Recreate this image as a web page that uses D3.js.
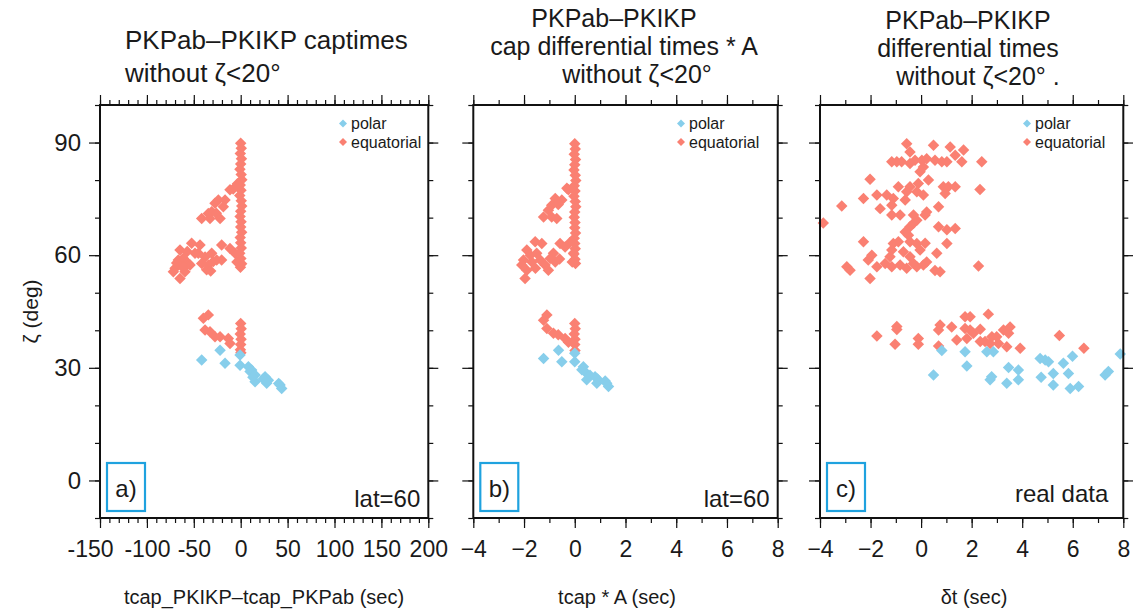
<!DOCTYPE html>
<html>
<head>
<meta charset="utf-8">
<script src="https://cdn.jsdelivr.net/npm/d3@7"></script>
<style>
  body { margin: 0; background: #fff; }
  svg { display: block; }
  text { font-family: "Liberation Sans", Arial, Helvetica, sans-serif; fill: #1a1a1a; }
</style>
</head>
<body>
<svg id="chart" width="1133" height="610"></svg>
<script>
// ---- data (x, zeta) ----
var panelAEquatorial = [
  [0,89.8],[0.6,88.5],[-0.4,87.1],[0.8,85.7],[0,84.3],[-0.8,82.9],[0.5,81.5],[1.2,80.1],[-0.5,78.7],
  [0.3,77.3],[-1,75.9],[0.6,74.5],[1.1,73.1],[0,71.7],[-0.6,70.3],[0.4,68.9],[0,67.5],[1,66.1],
  [-0.5,64.7],[0,63.3],[0.6,61.9],[-1,60.5],[0.2,59.1],[1,57.7],[-0.3,56.8],
  [-6,60.5],[-11.4,61.8],[-4,58.2],[-8,77.6],[-11.4,77.4],[-3.5,79],
  [-16.7,74.7],[-18.5,72.9],[-23.8,74.7],[-27.4,73.8],[-30.9,71.6],[-34.5,71.1],[-26,71.2],[-22,69.8],
  [-32.7,69.8],[-41.6,69.8],
  [-20.3,62.7],[-20.3,58.7],[-25.6,58.7],[-29.2,58.3],[-30.9,60.5],[-34.5,57.4],[-36.3,56.1],[-41.6,57.8],
  [-38,59.5],[-32,55.8],
  [-43.4,62.7],[-45.2,60.5],[-48.7,60.5],[-52.3,63.2],[-55.8,57.8],[-54,57.4],[-59.4,55.6],[-61.2,59.2],
  [-63,57.4],[-64.7,61.4],[-64.7,53.8],[-66.5,58.7],[-68.3,57.9],[-70,56.5],[-71.8,55.6],[-57,61],[-61,56.5],
  [-39.8,43.2],[-34.5,44.1],[-38,40.1],[-32.7,39.6],[-27.4,38.3],[-22,38.3],[-13.2,37.8],[-11.4,36.5],
  [0,41.8],[0.5,40.4],[-0.5,39],[0.4,37.6],[0,36.2],[-0.3,34.8],[0.2,34]
];
var panelAPolar = [
  [-41.6,32.1],[-22,34.7],[-16.7,31.2],[-0.7,33.4],[-0.7,30.7],[8.2,30.3],[10,29],[11.7,29.4],[15.3,28.1],
  [15.3,26.3],[13,27.5],[26,27.6],[27.7,25.9],[29.5,26.7],[24,27],[42,25.4],[43.7,24.5],[40.5,25.8]
];

var panelBEquatorial = [
  [0,89.7],[0.02,88.3],[-0.02,86.9],[0.03,85.5],[0,84.1],[-0.03,82.7],[0.02,81.3],[0.04,79.9],[-0.02,78.5],
  [0.01,77.1],[-0.03,75.7],[0.02,74.3],[0.04,72.9],[0,71.5],[-0.02,70.1],[0.01,68.7],[0,67.3],[0.03,65.9],
  [-0.02,64.5],[0,63.1],[0.02,61.7],[-0.03,60.3],[0.01,58.9],[0.03,57.8],
  [-0.05,60.5],[-0.38,62.2],[-0.2,63.3],[-0.1,58.2],[-0.31,77.8],[-0.25,77.4],
  [-0.51,74.7],[-0.77,75.1],[-0.91,73.3],[-0.65,73.5],[-1.04,72],[-1.23,70.2],[-0.91,70.2],[-0.71,69.8],
  [-0.58,63.1],[-0.84,60.5],[-0.77,58.2],[-0.97,59.1],[-1.17,57.4],[-1.04,56],[-0.6,59],
  [-1.3,63.1],[-1.56,63.6],[-1.89,61.4],[-1.5,60.5],[-2.02,58.7],[-2.09,57.4],[-1.89,56],[-1.96,53.8],
  [-1.69,58.2],[-1.36,58.7],[-1.75,60],[-1.55,56.5],
  [-1.1,44.1],[-1.23,42.7],[-1.1,40.5],[-0.84,39.2],[-0.65,38.8],[-0.38,37.8],[-0.25,36.8],
  [0,41.8],[0.02,40.4],[-0.02,39],[0.01,37.6],[0,36.2],[0.01,34.6]
];
var panelBPolar = [
  [-1.23,32.5],[-0.64,34.7],[-0.51,31.6],[0,33.9],[0,31.6],[0.28,29.5],[0.34,30.3],[0.47,28.5],[0.47,26.8],
  [0.6,28],[0.8,27.6],[0.87,25.9],[0.9,27],[1.26,25.9],[1.33,25],[1.2,26.5]
];

var panelCEquatorial = [
  [-0.57,89.7],[0.49,89.3],[1.15,88.8],[-0.44,87.5],[1.68,88],[1.35,86.6],
  [-1.16,84.9],[-0.96,84.9],[-0.77,84.9],[-0.44,84.4],[-0.24,85.3],[0.03,85.3],[0.22,85.7],[0.55,85.3],
  [0.82,84.9],[1.02,84.9],[0.09,83.5],[-0.04,82.2],[1.61,84.9],[2.4,84.9],
  [-2.02,80.2],[0.29,80],[-0.11,79.1],[-0.9,78.2],[-0.44,78.2],[-0.57,76.9],[-0.17,76.9],[0.09,76],
  [0.88,78.2],[1.08,78.2],[1.35,78.2],[2.33,77.5],[0.95,76.4],
  [-1.75,76],[-1.36,76],[-2.28,75.1],[-1.1,75.1],[-3.14,73.1],[-1.62,72.4],[-1.16,73.3],[-0.63,74.7],[0.69,72.9],
  [-1.16,70.7],[-0.83,70.7],[-0.3,70.7],[-0.17,69.3],[0.16,70.7],[0.22,71.5],
  [-3.87,68.6],[-0.44,67.6],[-0.3,68.5],[0.69,67.6],[1.02,66.8],[1.35,67.1],[-0.63,66.2],[-0.5,65.3],
  [-2.28,63.6],[-1.1,63.1],[-0.9,63.6],[-0.44,63.6],[-0.17,63.1],[0.16,63.2],[1.02,63.1],
  [-1.16,61.4],[-0.7,60.9],[-0.04,61.4],[0.62,60.5],[-1.95,60],[-2.09,58.7],[-1.23,59.6],[-0.44,59.6],
  [-1.75,56.9],[-1.42,57.8],[-1.16,56.9],[-0.83,57.4],[-0.57,56.5],[-0.17,56.9],[0.09,57.4],[-0.3,57.8],
  [0.55,55.9],[0.75,55.6],[2.27,57.1],[-2.94,56.9],[-2.81,56],[-2.02,53.8],[0.22,58.2],
  [-1.75,38.5],[-0.96,41],[-0.96,40.2],[-1.03,36.3],[-0.11,37.8],[-0.11,36.3],[0.69,40.1],[0.75,41.4],
  [0.69,35.8],[1.21,40.9],[1.41,37.4],[1.74,43.6],[1.94,43.6],[1.74,40.5],[1.94,40.1],[1.81,37.8],
  [2.07,39.2],[2.34,40.3],[2.66,44.3],[2.34,37],[2.53,37],[2.73,36.5],[2.8,38.3],[2.99,38.3],[3.06,36.5],
  [3.26,40.1],[3.46,39.2],[3.52,40.9],[3.39,35.6],[3.92,35.2],[5.47,38.6],[6.44,35.2]
];
var panelCPolar = [
  [0.49,28.1],[0.82,34.6],[1.74,34.3],[1.81,30.5],[2.6,34.3],[2.86,34.3],[2.79,27.6],[2.73,26.8],
  [3.39,25.9],[3.46,30.1],[3.85,29.4],[3.85,26.8],[4.71,32.5],[4.91,32.1],[5.04,31.6],[4.75,27.5],
  [5.23,28.5],[5.23,25.4],[5.63,31.2],[5.83,28.5],[5.99,33.1],[5.9,24.5],[6.23,25],[7.28,28.1],
  [7.41,29],[7.88,33.7]
];

var yDomain = [-10, 100];
var yMinorTicks = d3.range(-10, 101, 10);
var yMajorTicks = [0, 30, 60, 90];
var xTicksA = d3.range(-150, 201, 10);
var xLabelsA = d3.range(-150, 201, 50);
var xTicksBC = d3.range(-4, 9, 1);
var xLabelsBC = d3.range(-4, 9, 2);
var seriesNames = ["polar", "equatorial"];

// ---- layout ----
var colPolar = "#87ceeb", colEqu = "#fa8072", colBox = "#1fa2df";
var plotTop = 105, plotBottom = 518;
var svg = d3.select("#chart");

var yScale = d3.scaleLinear().domain(yDomain).range([plotBottom, plotTop]);

var panels = [
  { left: 100, right: 428.3, dom: [-150, 200], minor: xTicksA, major: xLabelsA,
    fmt: function(d) { return String(d); }, firstDx: -10,
    equ: panelAEquatorial, pol: panelAPolar, letter: "a)", note: "lat=60", noteDx: 8, noteY: 507,
    legendX: 343, yLabels: true, titleSize: 26,
    title: [{ t: "PKPab\u2013PKIKP captimes", x: 125, y: 49, a: "start" },
            { t: "without \u03b6<20\u00b0", x: 125, y: 82, a: "start" }],
    xTitle: "tcap_PKIKP\u2013tcap_PKPab (sec)", xTitleX: 264 },
  { left: 473.3, right: 777.7, dom: [-4, 8], minor: xTicksBC, major: xLabelsBC,
    fmt: d3.format("d"), firstDx: 0,
    equ: panelBEquatorial, pol: panelBPolar, letter: "b)", note: "lat=60", noteDx: 8, noteY: 507,
    legendX: 681, yLabels: false, titleSize: 25,
    title: [{ t: "PKPab\u2013PKIKP", x: 614, y: 27, a: "middle" },
            { t: "cap differential times * A", x: 624, y: 55, a: "middle" },
            { t: "without \u03b6<20\u00b0", x: 637, y: 83, a: "middle" }],
    xTitle: "tcap * A (sec)", xTitleX: 617 },
  { left: 820, right: 1123.3, dom: [-4, 8], minor: xTicksBC, major: xLabelsBC,
    fmt: d3.format("d"), firstDx: 0,
    equ: panelCEquatorial, pol: panelCPolar, letter: "c)", note: "real data", noteDx: 15, noteY: 502,
    legendX: 1027, yLabels: false, titleSize: 25,
    title: [{ t: "PKPab\u2013PKIKP", x: 968, y: 29, a: "middle" },
            { t: "differential times", x: 968, y: 57, a: "middle" },
            { t: "without \u03b6<20\u00b0 .", x: 978, y: 85, a: "middle" }],
    xTitle: "\u03b4t (sec)", xTitleX: 974 }
];

function styleAxis(g, size) {
  g.select(".domain").remove();
  g.attr("font-family", null).attr("font-size", null);
  g.selectAll(".tick line").attr("stroke", "#111").attr("stroke-width", 1.2);
  g.selectAll(".tick text").attr("fill", "#1a1a1a").style("font-size", size + "px");
}

var diamond = d3.symbol().type(d3.symbolSquare);

panels.forEach(function(p) {
  var x = d3.scaleLinear().domain(p.dom).range([p.left, p.right]);
  var g = svg.append("g");

  // minor ticks on all four sides
  g.append("g").attr("transform", "translate(0," + plotBottom + ")")
    .call(d3.axisBottom(x).tickValues(p.minor).tickSize(5).tickFormat(""))
    .call(styleAxis, 23);
  g.append("g").attr("transform", "translate(0," + plotTop + ")")
    .call(d3.axisTop(x).tickValues(p.minor).tickSize(5).tickFormat(""))
    .call(styleAxis, 23);
  g.append("g").attr("transform", "translate(" + p.left + ",0)")
    .call(d3.axisLeft(yScale).tickValues(yMinorTicks).tickSize(5).tickFormat(""))
    .call(styleAxis, 24);
  g.append("g").attr("transform", "translate(" + p.right + ",0)")
    .call(d3.axisRight(yScale).tickValues(yMinorTicks).tickSize(5).tickFormat(""))
    .call(styleAxis, 24);

  // major ticks
  var xb = g.append("g").attr("transform", "translate(0," + plotBottom + ")")
    .call(d3.axisBottom(x).tickValues(p.major).tickSize(10).tickPadding(13).tickFormat(p.fmt))
    .call(styleAxis, 23);
  xb.selectAll(".tick text").filter(function(d, i) { return i === 0; }).attr("dx", p.firstDx);
  g.append("g").attr("transform", "translate(0," + plotTop + ")")
    .call(d3.axisTop(x).tickValues(p.major).tickSize(10).tickFormat(""))
    .call(styleAxis, 23);
  g.append("g").attr("transform", "translate(" + p.left + ",0)")
    .call(d3.axisLeft(yScale).tickValues(yMajorTicks).tickSize(11).tickPadding(8)
      .tickFormat(p.yLabels ? d3.format("d") : ""))
    .call(styleAxis, 24);
  g.append("g").attr("transform", "translate(" + p.right + ",0)")
    .call(d3.axisRight(yScale).tickValues(yMajorTicks).tickSize(10).tickFormat(""))
    .call(styleAxis, 24);

  // points
  g.append("g").selectAll("path").data(p.equ).join("path")
    .attr("d", diamond.size(66))
    .attr("transform", function(d) { return "translate(" + x(d[0]) + "," + yScale(d[1]) + ") rotate(45)"; })
    .attr("fill", colEqu);
  g.append("g").selectAll("path").data(p.pol).join("path")
    .attr("d", diamond.size(66))
    .attr("transform", function(d) { return "translate(" + x(d[0]) + "," + yScale(d[1]) + ") rotate(45)"; })
    .attr("fill", colPolar);

  // frame
  g.append("rect").attr("x", p.left).attr("y", plotTop)
    .attr("width", p.right - p.left).attr("height", plotBottom - plotTop)
    .attr("fill", "none").attr("stroke", "#111").attr("stroke-width", 2);

  // legend
  var leg = g.append("g");
  seriesNames.forEach(function(name, i) {
    var ly = 123.5 + i * 18.5;
    leg.append("path").attr("d", diamond.size(32))
      .attr("transform", "translate(" + p.legendX + "," + ly + ") rotate(45)")
      .attr("fill", i === 0 ? colPolar : colEqu);
    leg.append("text").attr("x", p.legendX + 8).attr("y", ly + 5.5)
      .style("font-size", "16px").text(name);
  });

  // panel letter box
  g.append("rect").attr("x", p.left + 7).attr("y", 463).attr("width", 38).attr("height", 48)
    .attr("fill", "none").attr("stroke", colBox).attr("stroke-width", 2.2);
  g.append("text").attr("x", p.left + 26).attr("y", 497).attr("text-anchor", "middle")
    .style("font-size", "24px").text(p.letter);

  g.append("text").attr("x", p.right - p.noteDx).attr("y", p.noteY).attr("text-anchor", "end")
    .style("font-size", "24px").text(p.note);

  // titles
  p.title.forEach(function(t) {
    g.append("text").attr("x", t.x).attr("y", t.y).attr("text-anchor", t.a)
      .style("font-size", p.titleSize + "px").text(t.t);
  });
  g.append("text").attr("x", p.xTitleX).attr("y", 604).attr("text-anchor", "middle")
    .style("font-size", "20px").text(p.xTitle);
});

// y axis title
svg.append("text")
  .attr("transform", "translate(38," + yScale(45) + ") rotate(-90)")
  .attr("text-anchor", "middle")
  .style("font-size", "21px")
  .text("\u03b6 (deg)");
</script>
</body>
</html>
